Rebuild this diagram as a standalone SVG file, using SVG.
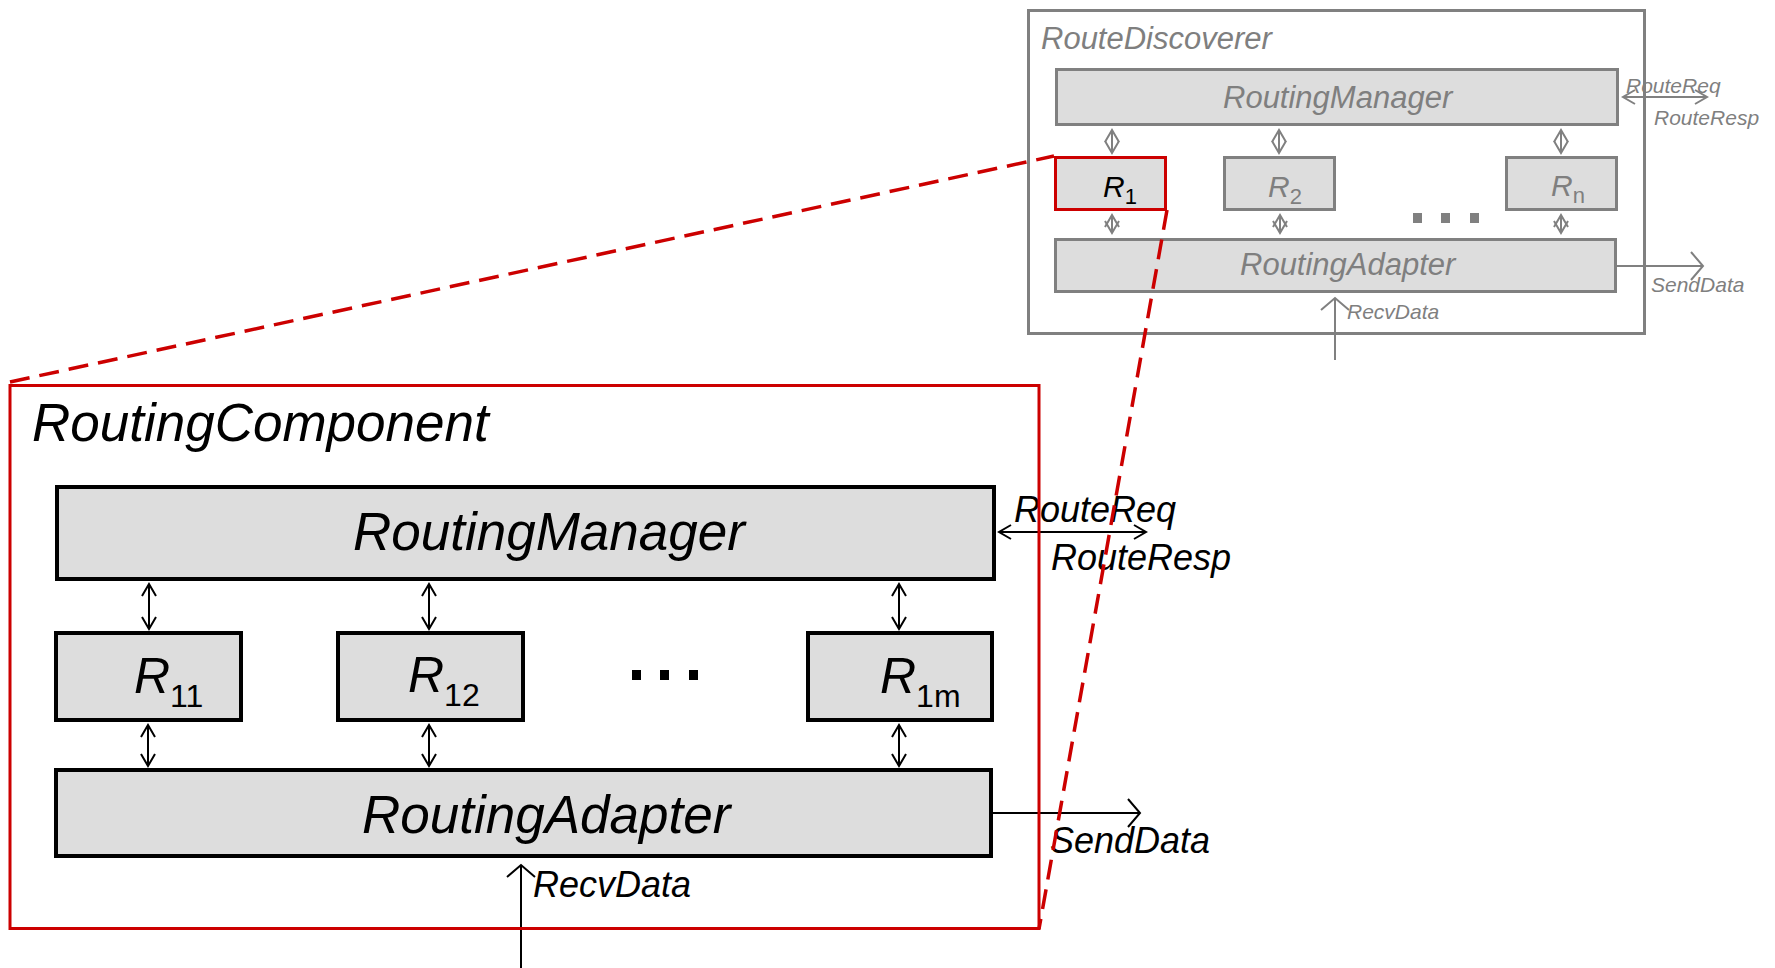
<svg xmlns="http://www.w3.org/2000/svg" width="1775" height="968" viewBox="0 0 1775 968">
  <style>
    text { font-family: "Liberation Sans", Arial, sans-serif; font-style: italic; }
    .box { fill: #dddddd; stroke: #000; stroke-width: 4; }
    .gbox { fill: #dddddd; stroke: #808080; stroke-width: 3; }
    .hbox { fill: #dddddd; stroke: #cc0000; stroke-width: 3; }
    .big { font-size: 53px; fill: #000; }
    .bigR { font-size: 50px; fill: #000; }
    .sub { font-style: normal; }
    .bigSub { font-size: 32px; }
    .smallR { font-size: 30px; }
    .smallSub { font-size: 22px; }
    .gtitle { font-size: 31px; fill: #7f7f7f; }
    .lbl { font-size: 36px; fill: #000; }
    .glbl { font-size: 21px; fill: #7f7f7f; }
    .ln { fill: none; stroke: #000; stroke-width: 2; }
    .gln { fill: none; stroke: #808080; stroke-width: 2; }
    .frame { fill: none; stroke: #cc0000; stroke-width: 3; }
    .dash { fill: none; stroke: #cc0000; stroke-width: 3.5; stroke-dasharray: 20 10; }
  </style>
  <defs>
    <marker id="head" markerUnits="userSpaceOnUse" markerWidth="30" markerHeight="30" refX="0" refY="0" viewBox="-14 -15 16 30" orient="auto-start-reverse" overflow="visible">
      <path d="M-12,-7 L0,0 L-12,7" fill="none" stroke="#000" stroke-width="2"/>
    </marker>
    <marker id="wide" markerUnits="userSpaceOnUse" markerWidth="30" markerHeight="30" refX="0" refY="0" viewBox="-14 -15 16 30" orient="auto-start-reverse" overflow="visible">
      <path d="M-12,-14 L0,0 L-12,14" fill="none" stroke="#000" stroke-width="2"/>
    </marker>
    <marker id="ghead" markerUnits="userSpaceOnUse" markerWidth="30" markerHeight="30" refX="0" refY="0" viewBox="-14 -15 16 30" orient="auto-start-reverse" overflow="visible">
      <path d="M-12,-7 L0,0 L-12,7" fill="none" stroke="#808080" stroke-width="2"/>
    </marker>
    <marker id="gwide" markerUnits="userSpaceOnUse" markerWidth="30" markerHeight="30" refX="0" refY="0" viewBox="-14 -15 16 30" orient="auto-start-reverse" overflow="visible">
      <path d="M-12,-14 L0,0 L-12,14" fill="none" stroke="#808080" stroke-width="2"/>
    </marker>
  </defs>

  <rect width="1775" height="968" fill="#fff"/>

  <!-- Overview: RouteDiscoverer -->
  <g id="RouteDiscoverer">
    <rect x="1028.5" y="10.5" width="616" height="323" fill="none" stroke="#808080" stroke-width="3"/>
    <text class="gtitle" x="1041" y="49">RouteDiscoverer</text>
  </g>
  <g id="rd-RoutingManager">
    <rect class="gbox" x="1056.5" y="69.5" width="561" height="55"/>
    <text class="gtitle" x="1223" y="108">RoutingManager</text>
  </g>
  <g id="rd-R1">
    <rect class="hbox" x="1055.5" y="157.5" width="110" height="52"/>
    <text class="smallR" x="1103" y="197" fill="#000">R<tspan class="sub smallSub" dy="7">1</tspan></text>
  </g>
  <g id="rd-R2">
    <rect class="gbox" x="1224.5" y="157.5" width="110" height="52"/>
    <text class="smallR" x="1268" y="197" fill="#7f7f7f">R<tspan class="sub smallSub" dy="7">2</tspan></text>
  </g>
  <g id="rd-Rn">
    <rect class="gbox" x="1506.5" y="157.5" width="110" height="52"/>
    <text class="smallR" x="1551" y="196" fill="#7f7f7f">R<tspan class="sub smallSub" dy="7">n</tspan></text>
  </g>
  <g id="rd-ellipsis" fill="#808080">
    <rect x="1413" y="213" width="9" height="10"/>
    <rect x="1441" y="213" width="9" height="10"/>
    <rect x="1470" y="213" width="9" height="10"/>
  </g>
  <g id="rd-RoutingAdapter">
    <rect class="gbox" x="1055.5" y="239.5" width="560" height="52"/>
    <text class="gtitle" x="1240" y="275">RoutingAdapter</text>
  </g>

  <!-- Detail: nodes of RoutingComponent -->
  <g id="RoutingManager">
    <rect class="box" x="57" y="487" width="937" height="92"/>
    <text class="big" x="353" y="550">RoutingManager</text>
  </g>
  <g id="R11">
    <rect class="box" x="56" y="633" width="185" height="87"/>
    <text class="bigR" x="134" y="693">R<tspan class="sub bigSub" dy="14">11</tspan></text>
  </g>
  <g id="R12">
    <rect class="box" x="338" y="633" width="185" height="87"/>
    <text class="bigR" x="408" y="692">R<tspan class="sub bigSub" dy="14">12</tspan></text>
  </g>
  <g id="R1m">
    <rect class="box" x="808" y="633" width="184" height="87"/>
    <text class="bigR" x="880" y="693">R<tspan class="sub bigSub" dy="14">1m</tspan></text>
  </g>
  <g id="ellipsis" fill="#000">
    <rect x="632" y="670" width="9" height="10"/>
    <rect x="660" y="670" width="9" height="10"/>
    <rect x="689" y="670" width="9" height="10"/>
  </g>
  <g id="RoutingAdapter">
    <rect class="box" x="56" y="770" width="935" height="86"/>
    <text class="big" x="362" y="833">RoutingAdapter</text>
  </g>

  <!-- Connectors and their labels -->
  <g id="connectors">
    <!-- overview -->
    <line class="gln" x1="1112" y1="130" x2="1112" y2="153" marker-start="url(#ghead)" marker-end="url(#ghead)"/>
    <line class="gln" x1="1279" y1="130" x2="1279" y2="153" marker-start="url(#ghead)" marker-end="url(#ghead)"/>
    <line class="gln" x1="1561" y1="130" x2="1561" y2="153" marker-start="url(#ghead)" marker-end="url(#ghead)"/>
    <line class="gln" x1="1112" y1="215" x2="1112" y2="233" marker-start="url(#ghead)" marker-end="url(#ghead)"/>
    <line class="gln" x1="1280" y1="215" x2="1280" y2="233" marker-start="url(#ghead)" marker-end="url(#ghead)"/>
    <line class="gln" x1="1561" y1="215" x2="1561" y2="233" marker-start="url(#ghead)" marker-end="url(#ghead)"/>
    <line class="gln" x1="1623" y1="97" x2="1707" y2="97" marker-start="url(#ghead)" marker-end="url(#ghead)"/>
    <text class="glbl" x="1626" y="93">RouteReq</text>
    <text class="glbl" x="1654" y="125">RouteResp</text>
    <line class="gln" x1="1617" y1="266" x2="1703" y2="266" marker-end="url(#gwide)"/>
    <text class="glbl" x="1651" y="292">SendData</text>
    <line class="gln" x1="1335" y1="360" x2="1335" y2="298" marker-end="url(#gwide)"/>
    <text class="glbl" x="1347" y="319">RecvData</text>

    <!-- detail -->
    <line class="ln" x1="149" y1="584" x2="149" y2="629" marker-start="url(#head)" marker-end="url(#head)"/>
    <line class="ln" x1="429" y1="584" x2="429" y2="629" marker-start="url(#head)" marker-end="url(#head)"/>
    <line class="ln" x1="899" y1="584" x2="899" y2="629" marker-start="url(#head)" marker-end="url(#head)"/>
    <line class="ln" x1="148" y1="725" x2="148" y2="766" marker-start="url(#head)" marker-end="url(#head)"/>
    <line class="ln" x1="429" y1="725" x2="429" y2="766" marker-start="url(#head)" marker-end="url(#head)"/>
    <line class="ln" x1="899" y1="725" x2="899" y2="766" marker-start="url(#head)" marker-end="url(#head)"/>
    <line class="ln" x1="999" y1="532" x2="1146" y2="532" marker-start="url(#head)" marker-end="url(#head)"/>
    <text class="lbl" x="1014" y="522">RouteReq</text>
    <text class="lbl" x="1051" y="570">RouteResp</text>
    <line class="ln" x1="992" y1="813" x2="1140" y2="813" marker-end="url(#wide)"/>
    <text class="lbl" x="1050" y="853">SendData</text>
    <line class="ln" x1="521" y1="968" x2="521" y2="865" marker-end="url(#wide)"/>
    <text class="lbl" x="533" y="897">RecvData</text>

    <!-- zoom lines from R1 to its expanded view -->
    <line class="dash" x1="10" y1="382" x2="1054" y2="156"/>
    <line class="dash" x1="1167" y1="210" x2="1039" y2="929"/>
  </g>

  <!-- Expanded view: RoutingComponent -->
  <g id="RoutingComponent">
    <rect class="frame" x="10" y="385.5" width="1029" height="543"/>
    <text class="big" x="32" y="441">RoutingComponent</text>
  </g>
</svg>
